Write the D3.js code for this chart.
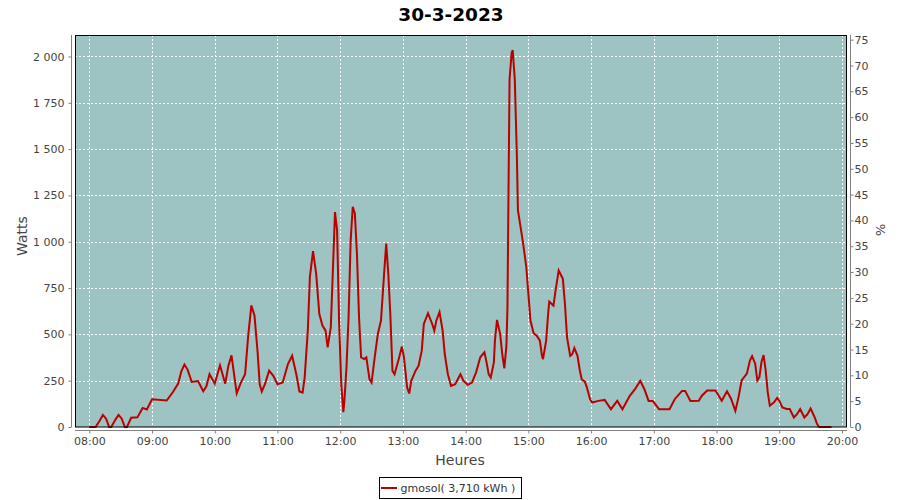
<!DOCTYPE html>
<html>
<head>
<meta charset="utf-8">
<script src="https://cdn.jsdelivr.net/npm/d3@7"></script>
<style>
  html, body { margin: 0; padding: 0; background: #ffffff; }
  svg { display: block; font-family: "DejaVu Sans", sans-serif; }
</style>
</head>
<body>
<svg id="chart" width="900" height="500"></svg>
<script>
// ---- data ----
const chartTitle = "30-3-2023";
const seriesName = "gmosol( 3,710 kWh )";
const times = [
  "08:00","08:06","08:10","08:13","08:16","08:19","08:21","08:25","08:28","08:31",
  "08:34","08:36","08:40","08:46","08:51","08:55","09:00","09:14","09:20","09:25",
  "09:28","09:31","09:34","09:38","09:44","09:49","09:52","09:55","10:00","10:05",
  "10:10","10:13","10:16","10:21","10:25","10:29","10:32","10:35","10:38","10:41",
  "10:43","10:45","10:48","10:52","10:56","11:00","11:05","11:10","11:14","11:18",
  "11:21","11:24","11:26","11:29","11:31","11:34","11:37","11:40","11:43","11:46",
  "11:48","11:51","11:53","11:55","11:57","11:59","12:01","12:03","12:04","12:06",
  "12:08","12:10","12:12","12:14","12:16","12:18","12:20","12:23","12:25","12:28",
  "12:30","12:33","12:36","12:39","12:42","12:44","12:46","12:48","12:50","12:52",
  "12:56","12:59","13:01","13:04","13:06","13:08","13:12","13:15","13:18","13:20",
  "13:24","13:28","13:30","13:32","13:35","13:38","13:40","13:43","13:46","13:50",
  "13:55","13:58","14:02","14:06","14:10","14:14","14:18","14:20","14:22","14:24",
  "14:27","14:28","14:30","14:33","14:35","14:37","14:39","14:40","14:41","14:42",
  "14:44","14:45","14:47","14:49","14:50","14:53","14:55","14:58","15:00","15:02",
  "15:05","15:08","15:11","15:13","15:14","15:17","15:19","15:20","15:24","15:26",
  "15:29","15:33","15:35","15:37","15:40","15:42","15:44","15:47","15:49","15:51",
  "15:54","15:56","15:59","16:01","16:07","16:13","16:19","16:25","16:30","16:37",
  "16:42","16:47","16:51","16:55","16:59","17:05","17:15","17:20","17:27","17:30",
  "17:35","17:43","17:46","17:51","17:59","18:05","18:10","18:14","18:18","18:21",
  "18:24","18:29","18:32","18:34","18:37","18:39","18:41","18:43","18:45","18:47",
  "18:49","18:51","18:55","18:58","19:00","19:03","19:07","19:10","19:14","19:17",
  "19:20","19:24","19:27","19:30","19:34","19:36","19:38","19:50"
];
const watts = [
  0,0,35,65,45,0,0,40,65,45,
  0,0,50,52,103,95,150,143,189,234,
  300,337,310,243,248,193,220,285,234,333,
  234,330,387,182,240,285,493,656,602,403,
  231,192,231,304,276,231,240,340,385,285,
  192,186,267,520,810,949,828,611,548,520,
  430,539,846,1160,1063,556,231,80,141,322,
  593,1008,1189,1153,936,593,376,367,376,258,
  240,376,502,575,828,990,828,600,303,285,
  367,434,376,213,181,249,303,331,412,556,
  614,556,520,575,620,520,394,285,222,231,
  285,249,228,240,295,376,403,349,285,267,
  349,466,578,502,394,316,439,647,1279,1876,
  2020,2035,1876,1460,1171,1063,990,864,719,575,
  506,493,466,385,366,466,619,677,655,736,
  845,800,664,484,384,393,426,384,312,258,
  245,213,150,132,141,146,96,141,96,168,
  204,249,204,141,141,96,96,150,195,195,
  141,142,169,197,197,142,193,151,87,160,
  251,288,360,382,342,251,269,351,388,306,
  187,115,133,157,142,106,97,97,51,69,
  97,51,69,100,51,18,0,0
];
const leftTicks = [0,250,500,750,1000,1250,1500,1750,2000];
const rightTicks = [0,5,10,15,20,25,30,35,40,45,50,55,60,65,70,75];
const hourTicks = ["08:00","09:00","10:00","11:00","12:00","13:00","14:00",
                   "15:00","16:00","17:00","18:00","19:00","20:00"];

// ---- layout ----
const svg = d3.select("#chart");
const plot = { left: 75, right: 847, top: 35, bottom: 427 };
const parseT = d3.timeParse("%H:%M");
const data = times.map((t, i) => ({ t: parseT(t), v: watts[i] }));

const x = d3.scaleTime()
  .domain([new Date(1900,0,1,7,46,18), new Date(1900,0,1,20,4,48)])
  .range([plot.left, plot.right]);
const y = d3.scaleLinear().domain([0, 2116]).range([plot.bottom, plot.top]);
const y2 = d3.scaleLinear().domain([0, 75.9]).range([plot.bottom, plot.top]);

const loc = d3.formatLocale({ decimal: ",", thousands: "\u00a0", grouping: [3], currency: ["", ""] });
const fmtLeft = loc.format(",d");

// plot background
svg.append("rect")
  .attr("x", plot.left).attr("y", plot.top)
  .attr("width", plot.right - plot.left).attr("height", plot.bottom - plot.top)
  .attr("fill", "#9ec3c3");

// grid
const grid = svg.append("g").attr("stroke", "#ffffff").attr("stroke-width", 1)
  .attr("stroke-dasharray", "2,2").attr("shape-rendering", "crispEdges");
grid.selectAll("line.h").data(leftTicks.filter(d => d > 0)).enter().append("line")
  .attr("x1", plot.left).attr("x2", plot.right)
  .attr("y1", d => Math.round(y(d)) + 0.5).attr("y2", d => Math.round(y(d)) + 0.5);
grid.selectAll("line.v").data(hourTicks.map(parseT)).enter().append("line")
  .attr("y1", plot.top).attr("y2", plot.bottom)
  .attr("x1", d => Math.round(x(d)) + 0.5).attr("x2", d => Math.round(x(d)) + 0.5);

// series line
const line = d3.line().x(d => x(d.t)).y(d => y(d.v));
svg.append("path").datum(data)
  .attr("d", line)
  .attr("fill", "none")
  .attr("stroke", "#bb0000")
  .attr("stroke-width", 2)
  .attr("stroke-linejoin", "miter");

// plot border
svg.append("rect")
  .attr("x", plot.left + 0.5).attr("y", plot.top + 0.5)
  .attr("width", plot.right - plot.left - 1).attr("height", plot.bottom - plot.top - 0.5)
  .attr("fill", "none").attr("stroke", "#000000").attr("stroke-width", 1);

// axes
function styleAxis(g) {
  g.selectAll(".domain").attr("stroke", "#808080");
  g.selectAll(".tick line").attr("stroke", "#808080");
  g.selectAll(".tick text").attr("fill", "#444444").style("font-size", "11px")
    .style("font-family", "DejaVu Sans, sans-serif");
}
const gLeft = svg.append("g").attr("transform", "translate(71.5,0)")
  .call(d3.axisLeft(y).tickValues(leftTicks).tickFormat(fmtLeft).tickSize(3).tickSizeOuter(0).tickPadding(4));
gLeft.select(".domain").attr("d", `M0,${plot.top}V${plot.bottom}`);
styleAxis(gLeft);

const gRight = svg.append("g").attr("transform", "translate(850.5,0)")
  .call(d3.axisRight(y2).tickValues(rightTicks).tickSize(3).tickSizeOuter(0).tickPadding(1));
gRight.select(".domain").attr("d", `M0,${plot.top}V${plot.bottom}`);
styleAxis(gRight);

const gBottom = svg.append("g").attr("transform", "translate(0,430.5)")
  .call(d3.axisBottom(x).tickValues(hourTicks.map(parseT)).tickFormat(d3.timeFormat("%H:%M"))
    .tickSize(3).tickSizeOuter(0).tickPadding(4));
gBottom.select(".domain").attr("d", `M${plot.left},0H${plot.right}`);
styleAxis(gBottom);

// titles
svg.append("text").attr("x", 451).attr("y", 21).attr("text-anchor", "middle")
  .style("font-size", "18.5px").style("font-weight", "bold").attr("fill", "#000")
  .text(chartTitle);
svg.append("text").attr("transform", "translate(27,236) rotate(-90)").attr("text-anchor", "middle")
  .style("font-size", "14px").attr("fill", "#444444").text("Watts");
svg.append("text").attr("transform", "translate(876,230) rotate(90)").attr("text-anchor", "middle")
  .style("font-size", "13px").attr("fill", "#444444").text("%");
svg.append("text").attr("x", 460).attr("y", 465).attr("text-anchor", "middle")
  .style("font-size", "14px").attr("fill", "#444444").text("Heures");

// legend
const lg = svg.append("g");
lg.append("rect").attr("x", 379.5).attr("y", 477.5).attr("width", 142).attr("height", 21)
  .attr("fill", "#ffffff").attr("stroke", "#000000").attr("stroke-width", 1);
lg.append("line").attr("x1", 381).attr("x2", 397).attr("y1", 488).attr("y2", 488)
  .attr("stroke", "#bb0000").attr("stroke-width", 2);
lg.append("text").attr("x", 400.5).attr("y", 492).style("font-size", "11px")
  .attr("fill", "#333333").text(seriesName);
</script>
</body>
</html>
